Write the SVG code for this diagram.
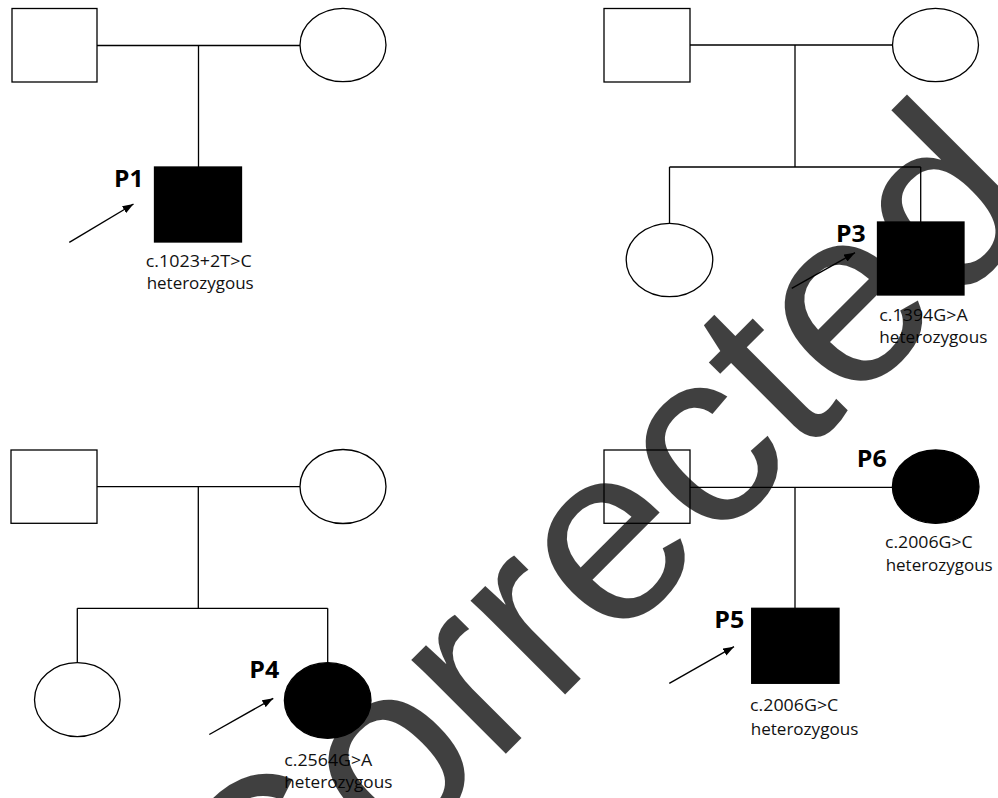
<svg xmlns="http://www.w3.org/2000/svg" width="998" height="798" viewBox="0 0 998 798">
<style>
.o{fill:none;stroke:#000;stroke-width:1.3}
.f{fill:#000;stroke:#000;stroke-width:1.3}
.ln{fill:none;stroke:#000;stroke-width:1.3}
.ar{fill:none;stroke:#000;stroke-width:1.4;marker-end:url(#ah)}
.lb{font-family:"Open Sans","Liberation Sans",sans-serif;font-weight:bold;font-size:23px;fill:#000}
.mt{font-family:"Open Sans","Liberation Sans",sans-serif;font-size:16.5px;fill:#111}
.wm{font-family:"Liberation Sans",Arial,sans-serif;font-size:252px;fill:#000;fill-opacity:0.75}
</style>
<defs>
<marker id="ah" viewBox="0 0 11 8" refX="11" refY="4" markerWidth="11" markerHeight="8" markerUnits="userSpaceOnUse" orient="auto">
<path d="M0,0 L11,4 L0,8 z" fill="#000"/>
</marker>
</defs>
<rect width="998" height="798" fill="#fff"/>
<g id="connectors">
<path class="ln" d="M97,45.5 H300 M198.5,45.5 V167"/>
<path class="ln" d="M690,45 H892.5 M795,45 V167 M669.5,167 H920.7 M669.5,167 V223.3 M920.7,167 V222"/>
<path class="ln" d="M97,486.7 H300 M198.3,486.7 V608.3 M77.3,608.3 H327.7 M77.3,608.3 V662.7 M327.7,608.3 V662.7"/>
<path class="ln" d="M690,487.3 H892.4 M795,487.3 V608.3"/>
<line class="ar" x1="69.3" y1="242.3" x2="133.5" y2="204"/>
<line class="ar" x1="791.7" y1="288.3" x2="855" y2="252.7"/>
<line class="ar" x1="209.3" y1="734.5" x2="273.3" y2="698.3"/>
<line class="ar" x1="669.3" y1="683.3" x2="734" y2="646.7"/>
</g>
<g id="A_father"><rect class="o" x="12" y="8.5" width="85" height="73.5"/></g>
<g id="A_mother"><ellipse class="o" cx="343" cy="45" rx="43" ry="36.7"/></g>
<g id="P1">
<rect class="f" x="154.5" y="167" width="87" height="75"/>
<text class="lb" x="114" y="187" textLength="29.5" lengthAdjust="spacingAndGlyphs">P1</text>
<text class="mt" x="145.7" y="267" textLength="106" lengthAdjust="spacingAndGlyphs">c.1023+2T&gt;C</text>
<text class="mt" x="146.7" y="289" textLength="107" lengthAdjust="spacingAndGlyphs">heterozygous</text>
</g>
<g id="B_father"><rect class="o" x="604" y="8.5" width="86" height="73.5"/></g>
<g id="B_mother"><ellipse class="o" cx="935.5" cy="45" rx="43" ry="36.7"/></g>
<g id="B_sister"><ellipse class="o" cx="669.5" cy="260" rx="43.3" ry="36.7"/></g>
<g id="P3">
<rect class="f" x="877.5" y="222" width="86.5" height="73"/>
<text class="lb" x="836" y="241.7" textLength="29.7" lengthAdjust="spacingAndGlyphs">P3</text>
<text class="mt" x="879.3" y="320.5" textLength="88.4" lengthAdjust="spacingAndGlyphs">c.1394G&gt;A</text>
<text class="mt" x="879.3" y="343" textLength="108" lengthAdjust="spacingAndGlyphs">heterozygous</text>
</g>
<g id="C_father"><rect class="o" x="11" y="450" width="86" height="73.3"/></g>
<g id="C_mother"><ellipse class="o" cx="343" cy="486.5" rx="43" ry="37"/></g>
<g id="C_sister"><ellipse class="o" cx="77.3" cy="699.7" rx="42.8" ry="37"/></g>
<g id="P4">
<ellipse class="f" cx="327.7" cy="700.5" rx="43.3" ry="37.8"/>
<text class="lb" x="249.3" y="678.3" textLength="30" lengthAdjust="spacingAndGlyphs">P4</text>
<text class="mt" x="284.3" y="765.5" textLength="88" lengthAdjust="spacingAndGlyphs">c.2564G&gt;A</text>
<text class="mt" x="284.3" y="788.3" textLength="108" lengthAdjust="spacingAndGlyphs">heterozygous</text>
</g>
<g id="D_father"><rect class="o" x="604" y="450" width="86" height="73.3"/></g>
<g id="P6">
<ellipse class="f" cx="935.7" cy="486.7" rx="43.3" ry="36.7"/>
<text class="lb" x="856.7" y="466.7" textLength="30" lengthAdjust="spacingAndGlyphs">P6</text>
<text class="mt" x="885" y="547.7" textLength="87.7" lengthAdjust="spacingAndGlyphs">c.2006G&gt;C</text>
<text class="mt" x="885.7" y="570.7" textLength="107" lengthAdjust="spacingAndGlyphs">heterozygous</text>
</g>
<g id="P5">
<rect class="f" x="751.7" y="608.3" width="87.3" height="75"/>
<text class="lb" x="714.3" y="628.3" textLength="30" lengthAdjust="spacingAndGlyphs">P5</text>
<text class="mt" x="750" y="711" textLength="88.3" lengthAdjust="spacingAndGlyphs">c.2006G&gt;C</text>
<text class="mt" x="750.7" y="735" textLength="107.6" lengthAdjust="spacingAndGlyphs">heterozygous</text>
</g>
<text class="wm" x="265.7" y="993.9" transform="rotate(-45 265.7 993.9)">Corrected</text>
</svg>
